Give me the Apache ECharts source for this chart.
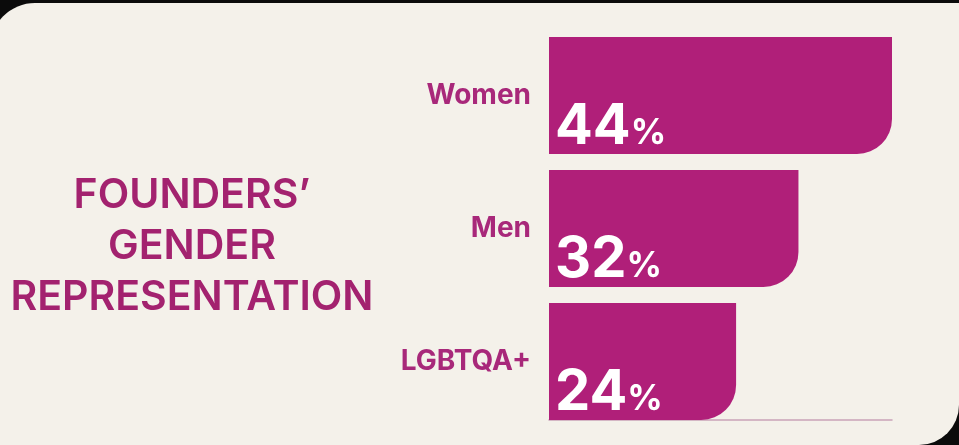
<!DOCTYPE html>
<html>
<head>
<meta charset="utf-8">
<script src="https://cdn.jsdelivr.net/npm/echarts@6/dist/echarts.min.js"></script>
<style>
html,body{margin:0;padding:0;background:#0b0b0b;}
#c{width:959px;height:445px;}
</style>
</head>
<body>
<div id="c"></div>
<script>
const categories = ['Women', 'Men', 'LGBTQA+'];
const values = [44, 32, 24];
const titleLines = ['FOUNDERS\u2019', 'GENDER', 'REPRESENTATION'];

const chart = echarts.init(document.getElementById('c'), null, {renderer: 'canvas'});
const magenta = '#b01f79';
const titleColor = '#a3226f';
const labelColor = '#a8287a';

chart.setOption({
  backgroundColor: '#0b0b0b',
  animation: false,
  graphic: [{
    type: 'rect',
    z: -10,
    silent: true,
    shape: {x: -10, y: 3, width: 969, height: 442, r: [45, 0, 40, 0]},
    style: {fill: '#f4f1ea'}
  }],
  title: {
    text: titleLines.join('\n'),
    left: 187,
    top: 165,
    textAlign: 'center',
    textStyle: {
      fontFamily: 'Inter',
      fontSize: 41,
      fontWeight: 600,
      lineHeight: 51,
      color: titleColor
    }
  },
  grid: {left: 549, right: 67, top: 29, bottom: 17},
  xAxis: {
    type: 'value',
    min: 0,
    max: 44,
    offset: -8,
    splitLine: {show: false},
    axisLabel: {show: false},
    axisTick: {show: false},
    axisLine: {show: true, lineStyle: {color: '#c9a3b8', width: 1.5}}
  },
  yAxis: {
    type: 'category',
    data: categories,
    inverse: true,
    axisLine: {show: false},
    axisTick: {show: false},
    axisLabel: {
      margin: 18,
      fontFamily: 'Inter',
      fontSize: 28,
      fontWeight: 700,
      color: labelColor,
      padding: [4, 0, 0, 0]
    }
  },
  series: [{
    type: 'bar',
    data: values,
    barCategoryGap: '12%',
    itemStyle: {color: magenta, borderRadius: [0, 0, 35, 0]},
    label: {
      show: true,
      position: 'insideBottomLeft',
      distance: 0,
      offset: [6, 1],
      formatter: p => '{n|' + p.value + '}{p|%}',
      rich: {
        n: {fontFamily: 'Inter', fontSize: 56, fontWeight: 700, color: '#ffffff', lineHeight: 56, verticalAlign: 'bottom'},
        p: {fontFamily: 'Inter', fontSize: 35, fontWeight: 700, color: '#ffffff', lineHeight: 35, verticalAlign: 'bottom', padding: [0, 0, 4, 0]}
      }
    }
  }]
});
</script>
</body>
</html>
